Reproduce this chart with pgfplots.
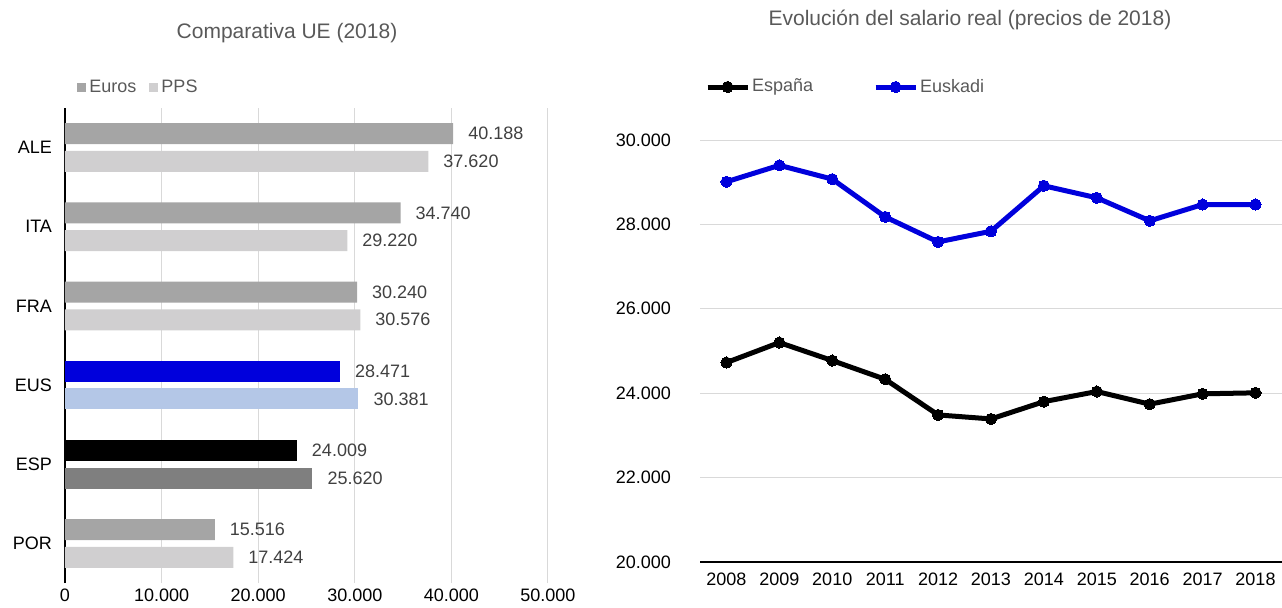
\documentclass[border=0pt]{standalone}
\usepackage{fontspec}
\setmainfont{Liberation Sans}
\usepackage{pgfplots}
\pgfplotsset{compat=1.18}
\definecolor{eurosgray}{HTML}{A5A5A5}
\definecolor{ppsgray}{HTML}{D0CFD0}
\definecolor{eusblue}{HTML}{0000DC}
\definecolor{euslight}{HTML}{B4C7E7}
\definecolor{espdark}{HTML}{7F7F7F}
\definecolor{gridc}{HTML}{D9D9D9}
\definecolor{titlec}{HTML}{595959}
\definecolor{valc}{HTML}{404040}
\pgfplotsset{
  /pgf/number format/assume math mode=true,
  /pgf/number format/1000 sep={.},
}
\begin{document}
\begin{tikzpicture}
\path[use as bounding box] (0,0) rectangle (641pt,303.5pt);
% titles
\node[font=\fontsize{10.5}{12}\selectfont, text=titlec] at (143.5pt,287pt) {Comparativa UE (2018)};
\node[font=\fontsize{10.5}{12}\selectfont, text=titlec] at (485pt,293.5pt) {Evolución del salario real (precios de 2018)};
% ---------------- left chart
\begin{axis}[
  at={(32.5pt,12pt)}, anchor=south west,
  scale only axis, width=241.5pt, height=237.5pt,
  xbar, bar width=10.5pt,
  every axis plot post/.append style={bar shift=0pt},
  xmin=0, xmax=50000, ymin=-0.5, ymax=5.5,
  xtick={0,10000,20000,30000,40000,50000},
  scaled x ticks=false,
  ytick={0,1,2,3,4,5},
  yticklabels={POR,ESP,EUS,FRA,ITA,ALE},
  xmajorgrids, grid style={gridc, line width=0.5pt},
  axis lines*=left,
  axis line style={-, black, line width=0.7pt},
  x axis line style={draw=none},
  major tick length=0pt,
  tick label style={font=\fontsize{9}{11}\selectfont, text=black},
  xticklabel style={yshift=0.5pt},
  yticklabel style={xshift=-3pt},
  clip=false,
  point meta=x,
  nodes near coords={\pgfmathprintnumber[fixed,precision=0]{\pgfplotspointmeta}},
  every node near coord/.append style={font=\fontsize{9}{11}\selectfont, text=valc, anchor=west, xshift=4pt},
  legend columns=2,
  legend style={at={(axis description cs:0.025,1.0423)}, anchor=west, draw=none, fill=none,
    inner sep=0pt, font=\fontsize{9}{11}\selectfont, text=titlec,
    nodes={inner sep=1.5pt},
    /tikz/every even column/.append style={column sep=5pt}},
  legend image code/.code={\fill[#1] (0pt,-2pt) rectangle (4.5pt,2.5pt);},
]
\addlegendimage{fill=eurosgray, draw=none}
\addlegendentry{Euros}
\addlegendimage{fill=ppsgray, draw=none}
\addlegendentry{PPS}
% Euros
\addplot[fill=eurosgray, draw=none, forget plot] coordinates {(40188,5.175) (34740,4.175) (30240,3.175) (15516,0.175)};
\addplot[fill=eusblue, draw=none, forget plot] coordinates {(28471,2.175)};
\addplot[fill=black, draw=none, forget plot] coordinates {(24009,1.175)};
% PPS
\addplot[fill=ppsgray, draw=none, forget plot] coordinates {(37620,4.825) (29220,3.825) (30576,2.825) (17424,-0.175)};
\addplot[fill=euslight, draw=none, forget plot] coordinates {(30381,1.825)};
\addplot[fill=espdark, draw=none, forget plot] coordinates {(25620,0.825)};
\end{axis}
% ---------------- right chart
\begin{axis}[
  at={(350pt,22.5pt)}, anchor=south west,
  scale only axis, width=291pt, height=211pt,
  xmin=2007.5, xmax=2018.5, ymin=20000, ymax=30000,
  xtick={2008,2009,...,2018},
  ytick={20000,22000,24000,26000,28000,30000},
  scaled y ticks=false,
  xticklabel style={/pgf/number format/1000 sep={}, yshift=-2pt},
  yticklabel style={/pgf/number format/fixed, xshift=-11pt},
  ymajorgrids, grid style={gridc, line width=0.5pt},
  axis lines*=left,
  axis line style={-, black, line width=0.7pt},
  y axis line style={draw=none},
  major tick length=0pt,
  tick label style={font=\fontsize{9}{11}\selectfont, text=black},
  clip=false,
  legend columns=2,
  legend style={at={(axis description cs:0.008,1.1256)}, anchor=west, draw=none, fill=none,
    inner sep=0pt, font=\fontsize{9}{11}\selectfont, text=titlec,
    nodes={inner sep=1pt},
    /tikz/every even column/.append style={column sep=29pt}},
  legend image code/.code={\draw[mark repeat=2,mark phase=2,#1] plot coordinates {(0pt,0pt) (10pt,0pt) (20pt,0pt)};},
]
\addplot[black, line width=2.5pt, mark=*, mark size=2.8pt, mark options={line width=0pt}] coordinates {
(2008,24726) (2009,25200) (2010,24773) (2011,24330) (2012,23485) (2013,23390)
(2014,23800) (2015,24040) (2016,23740) (2017,23985) (2018,24009)};
\addlegendentry{España}
\addplot[eusblue, line width=2.5pt, mark=*, mark size=2.8pt, mark options={line width=0pt}] coordinates {
(2008,29010) (2009,29400) (2010,29073) (2011,28178) (2012,27585) (2013,27838)
(2014,28915) (2015,28630) (2016,28085) (2017,28471) (2018,28471)};
\addlegendentry{Euskadi}
\end{axis}
\end{tikzpicture}
\end{document}
